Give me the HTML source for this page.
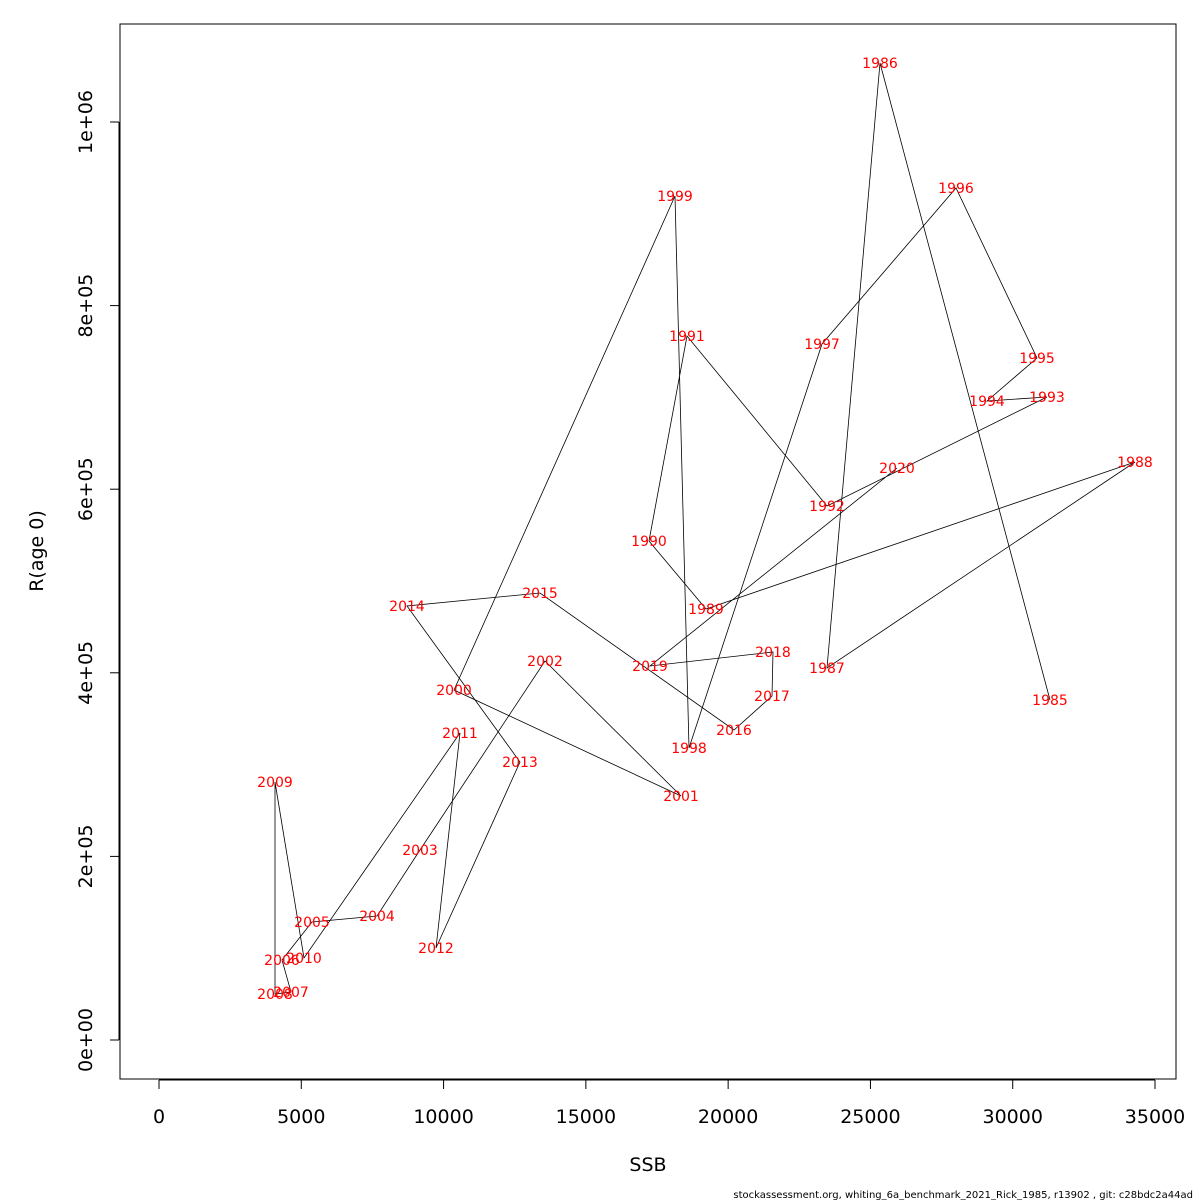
<!DOCTYPE html>
<html><head><meta charset="utf-8"><style>
body{margin:0;background:#fff;}
svg{display:block;font-family:"DejaVu Sans","Liberation Sans",sans-serif;}
</style></head><body>
<svg id="chart" width="1200" height="1200">
<rect x="120" y="24" width="1056" height="1055" fill="none" stroke="#000" stroke-width="1"/>
<g id="xaxis"></g>
<g id="yaxis"></g>
<path id="line" fill="none" stroke="#000" stroke-width="0.8"/>
<g id="labels"></g>
<text x="648" y="1171" font-size="19" text-anchor="middle">SSB</text>
<text x="0" y="0" font-size="19" text-anchor="middle" transform="translate(43,551) rotate(-90)">R(age 0)</text>
<text x="1193" y="1198" font-size="10" text-anchor="end">stockassessment.org, whiting_6a_benchmark_2021_Rick_1985, r13902 , git: c28bdc2a44ad</text>
</svg>
<script>
const years=[1985,1986,1987,1988,1989,1990,1991,1992,1993,1994,1995,1996,1997,1998,1999,2000,2001,2002,2003,2004,2005,2006,2007,2008,2009,2010,2011,2012,2013,2014,2015,2016,2017,2018,2019,2020];
const ssb=[31310,25336,23474,34297,19222,17219,18554,23474,31205,29096,30854,28007,23299,18625,18133,10367,18344,13564,9172,7661,5376,4322,4638,4076,4076,5095,10577,9734,12686,8715,13389,20206,21541,21576,17254,25934];
const rec=[370400,1064300,405200,629600,469500,543600,766900,581700,700400,696100,742900,928100,758200,318100,919400,381300,265800,412900,207000,135100,128500,87100,52300,50100,281000,89300,334400,100200,302800,472800,486900,337700,374700,422700,407400,623100];
const xTicks=[0,5000,10000,15000,20000,25000,30000,35000];
const yTicks=[0,200000,400000,600000,800000,1000000];
const yTickLabels=["0e+00","2e+05","4e+05","6e+05","8e+05","1e+06"];
const NS='http://www.w3.org/2000/svg';
function X(v){return 159+v*(996/35000);}
function Y(v){return 1040-v*918/1e6;}
function mk(t,a,p){const e=document.createElementNS(NS,t);for(const k in a)e.setAttribute(k,a[k]);p.appendChild(e);return e;}
const xa=document.getElementById('xaxis');
mk('line',{x1:X(0),x2:X(35000),y1:1080,y2:1080,stroke:'#000'},xa);
xTicks.forEach(v=>{mk('line',{x1:X(v),x2:X(v),y1:1080,y2:1089,stroke:'#000'},xa);
 const t=mk('text',{x:X(v),y:1123,'font-size':19,'text-anchor':'middle'},xa);t.textContent=v;
 
 });
const ya=document.getElementById('yaxis');
mk('line',{x1:119,x2:119,y1:Y(0),y2:Y(1e6),stroke:'#000'},ya);
yTicks.forEach((v,i)=>{mk('line',{x1:110,x2:119,y1:Y(v),y2:Y(v),stroke:'#000'},ya);
 const t=mk('text',{x:0,y:0,'font-size':19,'text-anchor':'middle',transform:`translate(92,${Y(v)}) rotate(-90)`},ya);t.textContent=yTickLabels[i];
 
 });
document.getElementById('line').setAttribute('d',ssb.map((s,i)=>(i?'L':'M')+X(s).toFixed(1)+' '+Y(rec[i]).toFixed(1)).join(' '));
const lg=document.getElementById('labels');
years.forEach((yr,i)=>{const t=mk('text',{x:X(ssb[i]),y:Y(rec[i])+5,'font-size':14,'text-anchor':'middle',fill:'#f00'},lg);t.textContent=yr;
 
 });
</script>
</body></html>
